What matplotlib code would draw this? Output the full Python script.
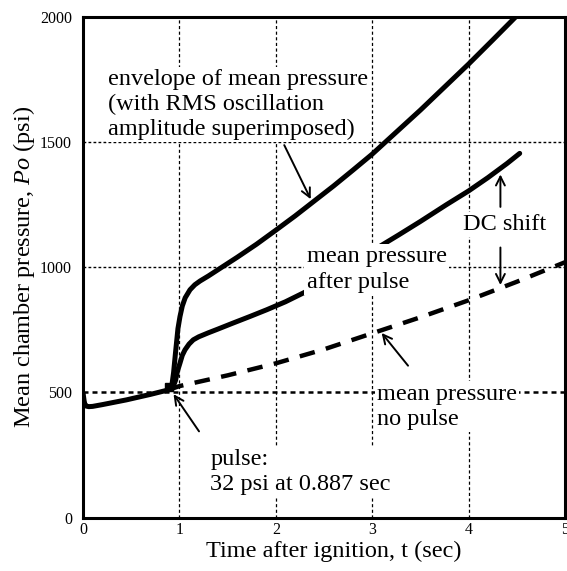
import matplotlib
matplotlib.use("Agg")
import matplotlib.pyplot as plt

plt.rcParams['font.family'] = ['Liberation Serif', 'DejaVu Serif']
plt.rcParams['mathtext.fontset'] = 'custom'
plt.rcParams['mathtext.rm'] = 'Liberation Serif'
plt.rcParams['mathtext.it'] = 'Liberation Serif:italic'

# ---- data ----
t_base = [0.0, 0.005, 0.012, 0.02, 0.035, 0.06, 0.1, 0.2, 0.45, 0.7, 0.887]
p_base = [500, 485, 465, 452, 445, 443, 444, 451, 470, 492, 510]

t_nopulse = [0.887, 1.0, 1.5, 2.0, 2.5, 3.0, 3.5, 4.0, 4.5, 5.0]
p_nopulse = [510, 525, 568, 616, 672, 736, 800, 868, 942, 1020]

t_after = [0.887, 0.92, 0.94, 0.96, 0.98, 1.006, 1.03, 1.058, 1.1, 1.144,
           1.2, 1.3, 1.4, 1.55, 1.73, 1.905, 2.1, 2.3, 2.5, 2.75,
           3.0, 3.27, 3.5, 3.77, 4.0, 4.2, 4.4, 4.53]
p_after = [510, 518, 528, 548, 585, 617, 648, 670, 693, 710,
           722, 738, 753, 776, 803, 830, 862, 900, 945, 1005,
           1065, 1128, 1183, 1250, 1305, 1358, 1415, 1455]

t_env = [0.887, 0.92, 0.94, 0.96, 0.985, 1.006, 1.03, 1.06, 1.11, 1.16,
         1.214, 1.3, 1.4, 1.6, 1.8, 2.0, 2.2, 2.4, 2.6, 2.8,
         3.0, 3.25, 3.5, 3.75, 4.0, 4.25, 4.5, 4.6]
p_env = [510, 523, 580, 660, 755, 803, 845, 878, 910, 930,
         945, 965, 990, 1040, 1092, 1148, 1205, 1265, 1325, 1388,
         1452, 1540, 1628, 1720, 1812, 1908, 2005, 2045]

pulse_t = 0.887
pulse_p = 520

x_ticks = [0, 1, 2, 3, 4, 5]
y_ticks = [0, 500, 1000, 1500, 2000]

# ---- figure ----
W, H = 567, 571
fig = plt.figure(figsize=(W / 100, H / 100), dpi=100)
ax = fig.add_axes([83 / W, (H - 517.5) / H, 482 / W, 500.5 / H])
ax.set_xlim(0, 5)
ax.set_ylim(0, 2000)
ax.set_xticks(x_ticks)
ax.set_yticks(y_ticks)
ax.tick_params(length=0, labelsize=11.5)
ax.tick_params(axis='y', pad=8)
ax.tick_params(axis='x', pad=3)
for s in ax.spines.values():
    s.set_linewidth(2.2)

# grid lines (dotted)
for xv in x_ticks[1:-1]:
    ax.axvline(xv, color='black', lw=0.9, ls=(0, (2.5, 2.0)), zorder=1)
for yv in y_ticks[1:-1]:
    lw = 1.8 if yv == 500 else 1.0
    ax.axhline(yv, color='black', lw=lw, ls=(0, (2.0, 1.6)), zorder=1)

# curves
ax.plot(t_base, p_base, color='black', lw=3.6, solid_capstyle='butt',
        solid_joinstyle='round', zorder=3)
ax.plot(t_nopulse, p_nopulse, color='black', lw=3.2, ls=(0, (3.5, 2.6)), zorder=3)
ax.plot(t_after, p_after, color='black', lw=3.6, solid_capstyle='round',
        solid_joinstyle='round', zorder=3)
ax.plot(t_env, p_env, color='black', lw=3.6, solid_capstyle='round',
        solid_joinstyle='round', zorder=3)
ax.plot([pulse_t], [pulse_p], marker='s', ms=5.5, color='black', zorder=4)

box = dict(facecolor='white', edgecolor='none', pad=1.5)
fs = 17.5
ax.text(0.26, 1650, 'envelope of mean pressure\n(with RMS oscillation\namplitude superimposed)',
        fontsize=fs, va='center', ha='left', linespacing=1.24, bbox=box, zorder=5)
ax.text(2.32, 990, 'mean pressure\nafter pulse', fontsize=fs, va='center', ha='left',
        linespacing=1.3, bbox=box, zorder=5)
ax.text(3.05, 442, 'mean pressure\nno pulse', fontsize=fs, va='center', ha='left',
        linespacing=1.28, bbox=box, zorder=5)
ax.text(1.32, 182, 'pulse:\n32 psi at 0.887 sec', fontsize=fs, va='center', ha='left',
        linespacing=1.28, bbox=box, zorder=5)
ax.text(4.81, 1170, 'DC shift', fontsize=fs, va='center', ha='right', bbox=box, zorder=5)

arr = dict(arrowstyle='->', color='black', lw=1.4, mutation_scale=16)
ax.annotate('', xy=(2.375, 1262), xytext=(2.075, 1498), arrowprops=arr, zorder=5)
ax.annotate('', xy=(3.08, 746), xytext=(3.39, 598), arrowprops=arr, zorder=5)
ax.annotate('', xy=(0.923, 502), xytext=(1.22, 335), arrowprops=arr, zorder=5)
ax.annotate('', xy=(4.33, 1382), xytext=(4.33, 1230), arrowprops=arr, zorder=5)
ax.annotate('', xy=(4.33, 918), xytext=(4.33, 1090), arrowprops=arr, zorder=5)

ax.set_xlabel('Time after ignition, t (sec)', fontsize=17.5, labelpad=0)
ax.xaxis.set_label_coords(0.52, -0.046, transform=ax.transAxes)
ax.xaxis.label.set_va('top')
ax.set_ylabel(r'Mean chamber pressure, $\mathit{Po}$ (psi)', fontsize=17.5, labelpad=2)

fig.savefig('out.png', dpi=100)
